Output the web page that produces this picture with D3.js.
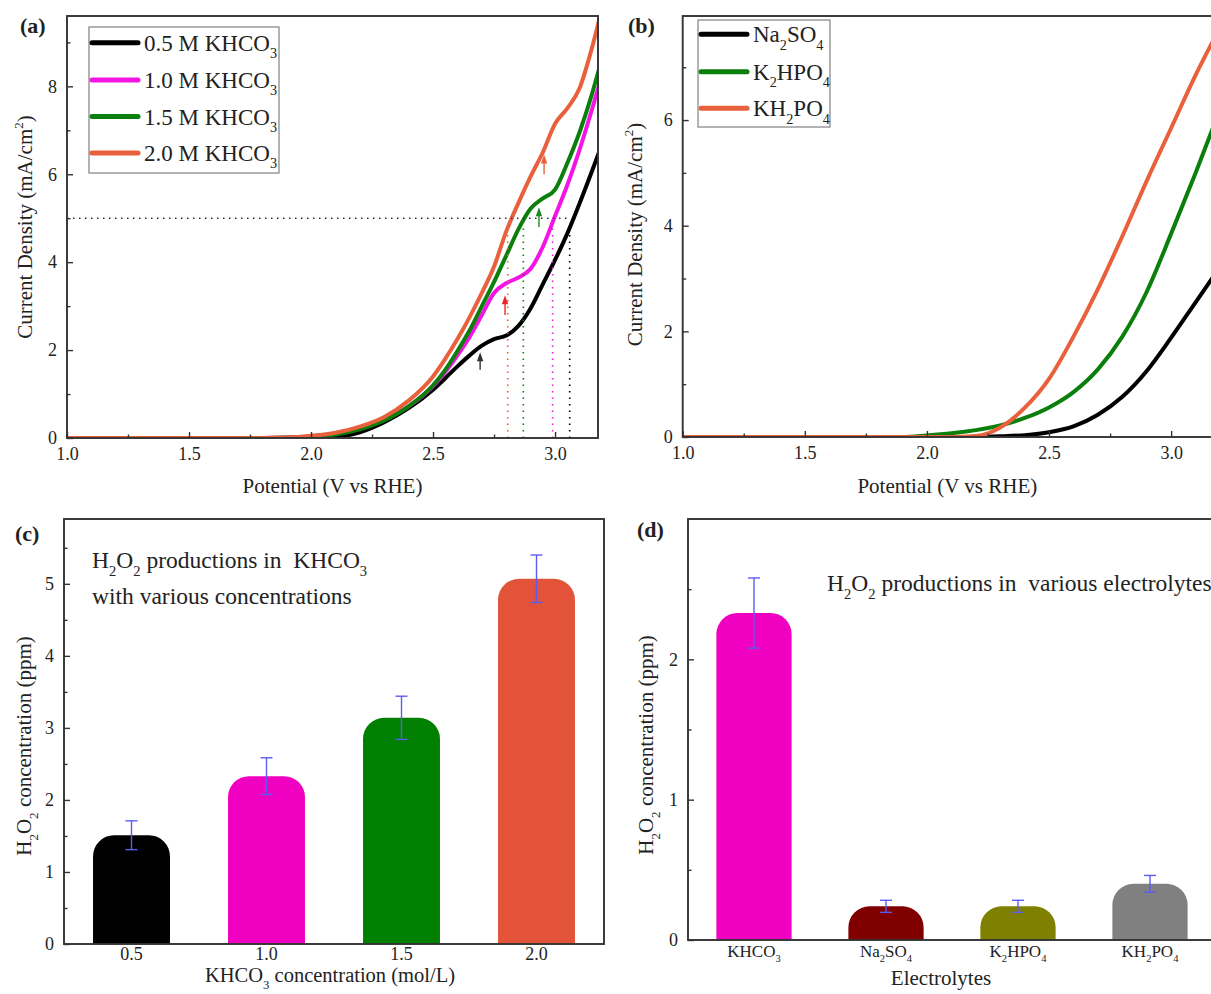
<!DOCTYPE html>
<html><head><meta charset="utf-8">
<script src="https://cdn.jsdelivr.net/npm/d3@7"></script>
<style>
body{margin:0;background:#fff}
svg{display:block}
text{font-family:"Liberation Serif","Times New Roman",serif;fill:#222;white-space:pre}
</style>
</head><body>
<svg id="fig" width="1211" height="994"></svg>
<script>
// ---------- (a) LSV curves in KHCO3 of different concentrations ----------
const potA = [1.0,1.5,1.8,1.9,2.0,2.1,2.2,2.3,2.4,2.5,2.55,2.6,2.65,2.7,2.75,2.8,2.85,2.9,2.95,3.0,3.05,3.1,3.15,3.2];
const j05 = [0,0,0,0,0,0.02,0.13,0.36,0.68,1.1,1.36,1.63,1.88,2.1,2.25,2.33,2.55,2.95,3.5,4.05,4.65,5.33,6.05,6.8];
const j10 = [0,0,0,0.01,0.04,0.1,0.22,0.42,0.72,1.18,1.5,1.88,2.3,2.8,3.3,3.52,3.65,3.85,4.35,5.05,5.75,6.55,7.45,8.4];
const j15 = [0,0,0,0.01,0.03,0.08,0.2,0.4,0.72,1.2,1.55,1.98,2.45,3.0,3.55,4.15,4.75,5.22,5.45,5.65,6.25,6.95,7.8,8.8];
const j20 = [0,0,0,0.01,0.05,0.12,0.26,0.48,0.85,1.4,1.8,2.25,2.75,3.3,3.9,4.7,5.35,5.95,6.5,7.15,7.5,7.95,8.85,9.95];
const namesA = ["0.5 M KHCO_3","1.0 M KHCO_3","1.5 M KHCO_3","2.0 M KHCO_3"];
const colorsA = ["#000000","#f414e4","#0b7f0b","#e8603c"];
// potentials where each curve reaches 5 mA/cm2 (dotted guides)
const level5 = 5;
const crossV = [3.06, 2.99, 2.87, 2.806];
// shoulder arrows: potential, tail and head current
const arrowV = [2.693, 2.795, 2.934, 2.955];
const arrowFrom = [1.55, 2.8, 4.8, 6.0];
const arrowTo = [1.95, 3.25, 5.25, 6.45];
const arrowColors = ["#333333","#e82828","#1f8a1f","#e8603c"];

// ---------- (b) LSV curves in other electrolytes ----------
const potB = [1.0,1.5,1.9,2.0,2.1,2.2,2.25,2.3,2.4,2.5,2.6,2.7,2.8,2.9,3.0,3.1,3.2];
const jNa = [0,0,0,0,0,0,0.005,0.012,0.035,0.09,0.2,0.42,0.76,1.25,1.88,2.55,3.22];
const jK2 = [0,0,0,0.03,0.07,0.13,0.17,0.22,0.36,0.56,0.85,1.28,1.9,2.75,3.85,5.0,6.2];
const jKH = [0,0,0,0,0,0.02,0.07,0.18,0.55,1.1,1.9,2.8,3.8,4.85,5.85,6.85,7.75];
const namesB = ["Na_2SO_4","K_2HPO_4","KH_2PO_4"];
const colorsB = ["#000000","#0b7f0b","#e8603c"];

// ---------- (c) H2O2 yield vs KHCO3 concentration ----------
const concCats = ["0.5","1.0","1.5","2.0"];
const concVals = [1.51,2.33,3.14,5.07];
const concErr = [0.2,0.255,0.3,0.33];
const concColors = ["#000000","#f000c0","#007f00","#e2533a"];

// ---------- (d) H2O2 yield vs electrolyte ----------
const elecCats = ["KHCO_3","Na_2SO_4","K_2HPO_4","KH_2PO_4"];
const elecVals = [2.33,0.24,0.24,0.40];
const elecErr = [0.25,0.043,0.043,0.06];
const elecColors = ["#f000c0","#800000","#808000","#808080"];

// tick values
const potMajor = [1.0,1.5,2.0,2.5,3.0];
const potMinor = [1.25,1.75,2.25,2.75];
const jMajorA = [0,2,4,6,8], jMinorA = [1,3,5,7,9];
const jMajorB = [0,2,4,6], jMinorB = [1,3,5,7];
const cMajor = [0,1,2,3,4,5], cMinor = [0.5,1.5,2.5,3.5,4.5,5.5];
const dMajor = [0,1,2], dMinor = [0.5,1.5,2.5];

const svg = d3.select("#fig");
svg.append("rect").attr("width",1211).attr("height",994).attr("fill","#fff");
const AX = "#333";
const TICK_FS = 18;

// text with _x subscripts and ^x superscripts
function rich(t, str, fs) {
  const re = /([_^])(.)/g;
  let m, last = 0, off = 0;
  const pieces = [];
  while ((m = re.exec(str)) !== null) {
    if (m.index > last) pieces.push({s: str.slice(last, m.index), k: "n"});
    pieces.push({s: m[2], k: m[1] === "_" ? "sub" : "sup"});
    last = re.lastIndex;
  }
  if (last < str.length) pieces.push({s: str.slice(last), k: "n"});
  pieces.forEach(p => {
    const ts = t.append("tspan").text(p.s);
    let target = 0;
    if (p.k === "sub") { target = fs * 0.32; ts.attr("font-size", fs * 0.62); }
    if (p.k === "sup") { target = -fs * 0.42; ts.attr("font-size", fs * 0.62); }
    if (target - off !== 0) ts.attr("dy", target - off);
    off = target;
  });
  return t;
}

function label(g, x, y, str, fs, opts = {}) {
  const t = g.append("text").attr("font-size", fs)
    .attr("text-anchor", opts.anchor || "start");
  if (opts.rotate) t.attr("transform", `translate(${x},${y}) rotate(-90)`);
  else t.attr("x", x).attr("y", y);
  if (opts.bold) t.attr("font-weight", "bold");
  rich(t, str, fs);
  return t;
}

function styleAxis(g) {
  g.select(".domain").remove();
  g.selectAll(".tick line").attr("stroke", AX).attr("stroke-width", 1.4);
  g.selectAll(".tick text").attr("font-size", TICK_FS).attr("fill", "#222")
    .attr("font-family", '"Liberation Serif","Times New Roman",serif');
}

function frame(g, b) {
  g.append("rect").attr("x", b.l).attr("y", b.t).attr("width", b.r - b.l).attr("height", b.b - b.t)
    .attr("fill", "none").attr("stroke", AX).attr("stroke-width", 1.9);
}

function yAxes(g, b, y, major, minor, fmt) {
  const a1 = g.append("g").attr("transform", `translate(${b.l},0)`)
    .call(d3.axisLeft(y).tickValues(major).tickSize(-6).tickPadding(10).tickFormat(fmt));
  styleAxis(a1);
  const a2 = g.append("g").attr("transform", `translate(${b.l},0)`)
    .call(d3.axisLeft(y).tickValues(minor).tickSize(-3.5).tickFormat(""));
  styleAxis(a2);
}

function xPotAxes(g, b, x) {
  const a1 = g.append("g").attr("transform", `translate(0,${b.b})`)
    .call(d3.axisBottom(x).tickValues(potMajor).tickSize(-6).tickPadding(9).tickFormat(d3.format(".1f")));
  styleAxis(a1);
  const a2 = g.append("g").attr("transform", `translate(0,${b.b})`)
    .call(d3.axisBottom(x).tickValues(potMinor).tickSize(-3.5).tickFormat(""));
  styleAxis(a2);
}

function linePanel(id, b, xDom, yDom, pot, series, colors) {
  const g = svg.append("g");
  const x = d3.scaleLinear().domain(xDom).range([b.l, b.r]);
  const y = d3.scaleLinear().domain(yDom).range([b.b, b.t]);
  svg.append("clipPath").attr("id", id).append("rect")
    .attr("x", b.l).attr("y", b.t).attr("width", b.r - b.l).attr("height", b.b - b.t);
  const line = d3.line().x(d => x(d[0])).y(d => y(d[1])).curve(d3.curveMonotoneX);
  const lg = g.append("g").attr("clip-path", `url(#${id})`);
  series.forEach((s, i) => {
    lg.append("path").datum(pot.map((v, k) => [v, s[k]]))
      .attr("d", line).attr("fill", "none").attr("stroke", colors[i])
      .attr("stroke-width", 4).attr("stroke-linejoin", "round").attr("stroke-linecap", "round");
  });
  return {g, x, y, lg};
}

function legend(g, x0, y0, w, h, rowY, names, colors) {
  g.append("rect").attr("x", x0).attr("y", y0).attr("width", w).attr("height", h)
    .attr("fill", "#fff").attr("stroke", "#8a8a8a").attr("stroke-width", 1.3);
  names.forEach((n, i) => {
    const yy = rowY[i];
    g.append("line").attr("x1", x0 + 3).attr("x2", x0 + 49).attr("y1", yy).attr("y2", yy)
      .attr("stroke", colors[i]).attr("stroke-width", 5).attr("stroke-linecap", "round");
    label(g, x0 + 55, yy + 8, n, 23);
  });
}

// ===== panel (a) =====
const bA = {l: 67, r: 598, t: 16, b: 438};
const pa = linePanel("clipA", bA, [1.0, 3.176], [0, 9.6], potA, [j05, j10, j15, j20], colorsA);
// dotted guides at 5 mA/cm2
pa.lg.append("line").attr("x1", pa.x(1.0)).attr("x2", pa.x(d3.max(crossV)))
  .attr("y1", pa.y(level5)).attr("y2", pa.y(level5))
  .attr("stroke", "#333").attr("stroke-width", 1.5).attr("stroke-dasharray", "1.5,4.5");
crossV.forEach((v, i) => {
  pa.lg.append("line").attr("x1", pa.x(v)).attr("x2", pa.x(v))
    .attr("y1", pa.y(0)).attr("y2", pa.y(level5 - 0.15))
    .attr("stroke", colorsA[i]).attr("stroke-width", 1.6).attr("stroke-dasharray", "1.5,5");
});
arrowV.forEach((v, i) => {
  const xx = pa.x(v), y1 = pa.y(arrowFrom[i]), y2 = pa.y(arrowTo[i]);
  pa.g.append("line").attr("x1", xx).attr("x2", xx).attr("y1", y1).attr("y2", y2 + 6)
    .attr("stroke", arrowColors[i]).attr("stroke-width", 1.4);
  pa.g.append("path").attr("d", `M${xx},${y2} L${xx - 3.2},${y2 + 9} L${xx + 3.2},${y2 + 9} Z`)
    .attr("fill", arrowColors[i]);
});
frame(pa.g, bA);
yAxes(pa.g, bA, pa.y, jMajorA, jMinorA, d3.format("d"));
xPotAxes(pa.g, bA, pa.x);
legend(pa.g, 89, 27, 190, 146, [42.7, 80, 116.5, 153], namesA, colorsA);
label(pa.g, 20, 33, "(a)", 22, {bold: true});
label(pa.g, (bA.l + bA.r) / 2, 493, "Potential (V vs RHE)", 21, {anchor: "middle"});
label(pa.g, 32, (bA.t + bA.b) / 2, "Current Density (mA/cm^2)", 21, {anchor: "middle", rotate: true});

// ===== panel (b) =====
const bB = {l: 682.7, r: 1220, t: 16, b: 437};
const pb = linePanel("clipB", bB, [1.0, 3.2], [0, 7.97], potB, [jNa, jK2, jKH], colorsB);
frame(pb.g, bB);
yAxes(pb.g, bB, pb.y, jMajorB, jMinorB, d3.format("d"));
xPotAxes(pb.g, bB, pb.x);
legend(pb.g, 698, 20, 132, 107, [34.3, 71.7, 108.3], namesB, colorsB);
label(pb.g, 628, 33, "(b)", 22, {bold: true});
label(pb.g, (bB.l + bB.r) / 2 - 4, 493, "Potential (V vs RHE)", 21, {anchor: "middle"});
label(pb.g, 642, (bB.t + bB.b) / 2 + 8, "Current Density (mA/cm^2)", 21, {anchor: "middle", rotate: true});

// ===== bar panels =====
function roundTop(x0, x1, yT, yB, r) {
  r = Math.min(r, yB - yT, (x1 - x0) / 2);
  return `M${x0},${yB} L${x0},${yT + r} A${r},${r} 0 0 1 ${x0 + r},${yT} L${x1 - r},${yT} A${r},${r} 0 0 1 ${x1},${yT + r} L${x1},${yB} Z`;
}

function barPanel(b, cats, vals, errs, colors, yDom, major, minor, fmt, padTick, catFs) {
  const g = svg.append("g");
  const x = d3.scaleBand().domain(cats).range([b.l, b.r]).paddingInner(0.43).paddingOuter(0.215);
  const y = d3.scaleLinear().domain(yDom).range([b.b, b.t]);
  cats.forEach((c, i) => {
    g.append("path").attr("d", roundTop(x(c), x(c) + x.bandwidth(), y(vals[i]), y(0), 21))
      .attr("fill", colors[i]);
  });
  cats.forEach((c, i) => {
    const cx = x(c) + x.bandwidth() / 2;
    const yt = y(vals[i] + errs[i]), yb = y(vals[i] - errs[i]);
    const eg = g.append("g").attr("stroke", "#5c5cf2").attr("stroke-width", 1.4);
    eg.append("line").attr("x1", cx).attr("x2", cx).attr("y1", yt).attr("y2", yb);
    eg.append("line").attr("x1", cx - 6).attr("x2", cx + 6).attr("y1", yt).attr("y2", yt);
    eg.append("line").attr("x1", cx - 6).attr("x2", cx + 6).attr("y1", yb).attr("y2", yb);
  });
  frame(g, b);
  yAxes(g, b, y, major, minor, fmt);
  // category labels under the bars
  cats.forEach(c => {
    label(g, x(c) + x.bandwidth() / 2, b.b + padTick, c, catFs, {anchor: "middle"});
  });
  return {g, x, y};
}

const bC = {l: 64, r: 604, t: 519, b: 944};
const pc = barPanel(bC, concCats, concVals, concErr, concColors, [0, 5.9], cMajor, cMinor, d3.format("d"), 16, TICK_FS);
label(pc.g, 15, 541, "(c)", 22, {bold: true});
label(pc.g, 92, 568, "H_2O_2 productions in  KHCO_3", 23.5);
label(pc.g, 92, 604, "with various concentrations", 23.5);
label(pc.g, 330, 982, "KHCO_3 concentration (mol/L)", 20.5, {anchor: "middle"});
label(pc.g, 31, 746, "H_2O_2 concentration (ppm)", 21, {anchor: "middle", rotate: true});

const bD = {l: 688, r: 1216, t: 519, b: 940};
const pd = barPanel(bD, elecCats, elecVals, elecErr, elecColors, [0, 3.0], dMajor, dMinor, d3.format("d"), 17, 17);
label(pd.g, 637, 537, "(d)", 22, {bold: true});
label(pd.g, 827, 591, "H_2O_2 productions in  various electrolytes", 23.5);
label(pd.g, 941, 985, "Electrolytes", 21, {anchor: "middle"});
label(pd.g, 653, 745, "H_2O_2 concentration (ppm)", 21, {anchor: "middle", rotate: true});
</script>
</body></html>
